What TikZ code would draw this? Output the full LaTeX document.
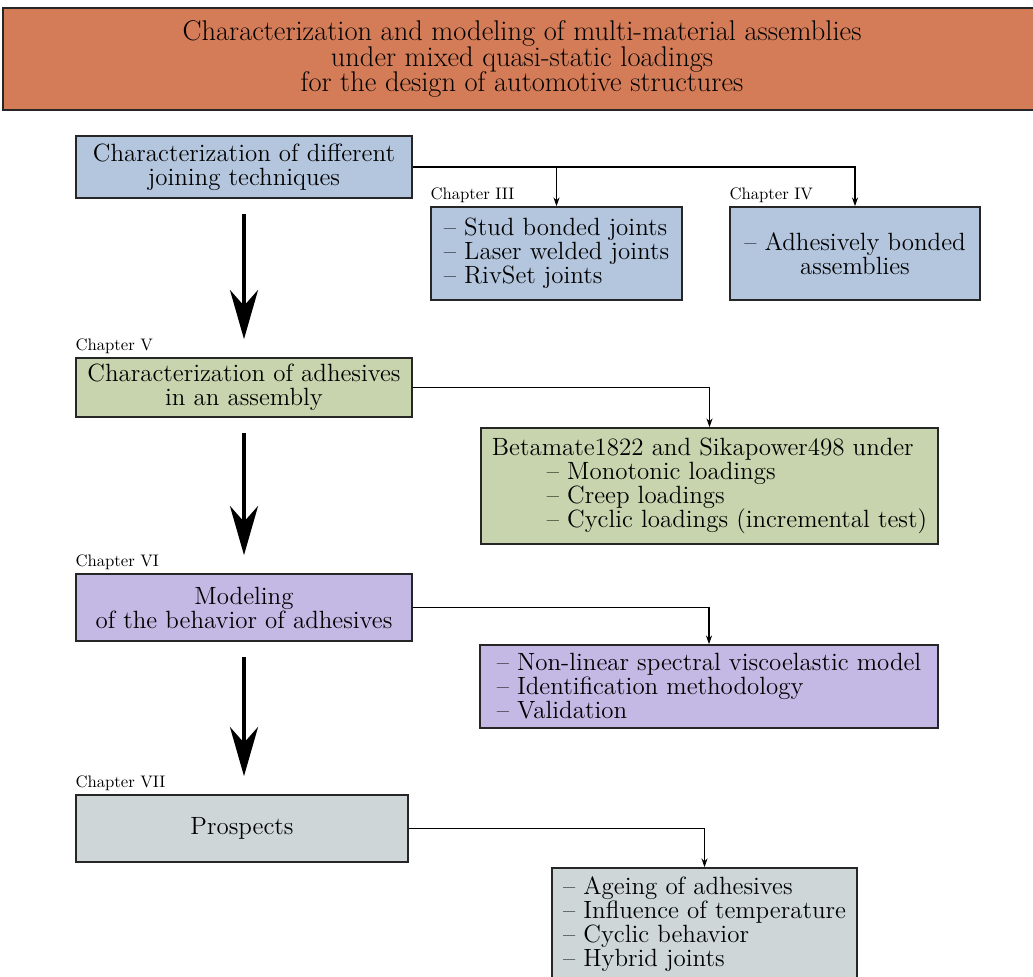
\documentclass[tikz,border=0pt]{standalone}
\usetikzlibrary{arrows.meta}
\definecolor{titlefill}{RGB}{212,124,88}
\definecolor{bluefill}{RGB}{180,198,222}
\definecolor{greenfill}{RGB}{200,212,174}
\definecolor{violetfill}{RGB}{196,184,228}
\definecolor{greyfill}{RGB}{206,214,216}
\begin{document}
\begin{tikzpicture}[x=0.02cm,y=-0.02cm,
  box/.style={draw=black!85, line width=1pt, inner sep=0pt, align=center,
    font=\fontsize{14.2}{13.7}\selectfont},
  listbox/.style={box, align=left},
  chap/.style={anchor=south west, inner xsep=0pt, inner ysep=2pt,
    font=\fontsize{9.5}{11}\selectfont},
  bigarrow/.style={line width=1.8pt, -{Stealth[length=28pt,width=16pt,inset=9pt]},
    shorten <=0.3cm, shorten >=0.36cm},
  smallarrow/.style={line width=0.6pt, -{Stealth[length=5pt,width=3.5pt]}}]
\useasboundingbox (0,0) rectangle (1033,976);

% title
\node[draw=black!85, line width=1pt, fill=titlefill, minimum width=20.76cm, minimum height=2.04cm,
  align=center, font=\fontsize{16.2}{14.7}\selectfont] (title) at (522,59)
  {Characterization and modeling of multi-material assemblies\\under mixed quasi-static loadings\\for the design of automotive structures};

% joining techniques
\node[box, fill=bluefill, minimum width=6.72cm, minimum height=1.24cm] (joining) at (244,167)
  {Characterization of different\\joining techniques};
\node[listbox, fill=bluefill, minimum width=5.02cm, minimum height=1.86cm] (ch3) at (556.5,253.5)
  {-- Stud bonded joints\\-- Laser welded joints\\-- RivSet joints};
\node[box, fill=bluefill, minimum width=5.0cm, minimum height=1.86cm] (ch4) at (855,253.5)
  {-- Adhesively bonded\\assemblies};
\node[chap] at (ch3.north west) {Chapter III};
\node[chap] at (ch4.north west) {Chapter IV};

% adhesives
\node[box, fill=greenfill, minimum width=6.72cm, minimum height=1.18cm] (charadh) at (244,387.5)
  {Characterization of adhesives\\in an assembly};
\node[listbox, fill=greenfill, minimum width=9.14cm, minimum height=2.32cm] (tests) at (709.5,486)
  {Betamate1822 and Sikapower498 under\\
   \hspace*{2.2em}-- Monotonic loadings\\
   \hspace*{2.2em}-- Creep loadings\\
   \hspace*{2.2em}-- Cyclic loadings (incremental test)};
\node[chap] at (charadh.north west) {Chapter V};

% modeling
\node[box, fill=violetfill, minimum width=6.72cm, minimum height=1.34cm] (model) at (244,607.5)
  {Modeling\\of the behavior of adhesives};
\node[listbox, fill=violetfill, minimum width=9.16cm, minimum height=1.66cm] (spectral) at (709,686.5)
  {-- Non-linear spectral viscoelastic model\\-- Identification methodology\\-- Validation};
\node[chap] at (model.north west) {Chapter VI};

% prospects
\node[box, fill=greyfill, minimum width=6.64cm, minimum height=1.34cm] (prosp) at (242,828.5)
  {Prospects};
\node[listbox, fill=greyfill, minimum width=6.1cm, minimum height=2.24cm] (future) at (704.5,924)
  {-- Ageing of adhesives\\-- Influence of temperature\\-- Cyclic behavior\\-- Hybrid joints};
\node[chap] at (prosp.north west) {Chapter VII};

\draw[smallarrow] (joining.east) -| (ch3.north);
\draw[smallarrow] (joining.east) -| (ch4.north);
\draw[smallarrow] (charadh.east) -| (tests.north);
\draw[smallarrow] (model.east) -| (spectral.north);
\draw[smallarrow] (prosp.east) -| (future.north);

\draw[bigarrow] (joining.south) -- (charadh.north);
\draw[bigarrow] (charadh.south) -- (model.north);
\draw[bigarrow] (model.south) -- (prosp.north -| model.south);
\end{tikzpicture}
\end{document}
